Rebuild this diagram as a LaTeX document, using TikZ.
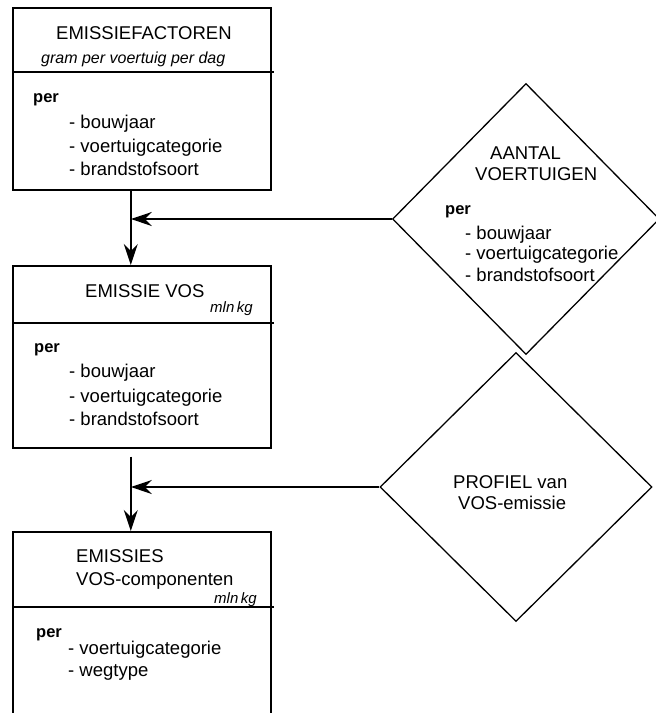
\documentclass[tikz,border=0pt]{standalone}
\usepackage{fontspec}
\setmainfont{Liberation Sans}
\usetikzlibrary{shapes.geometric,arrows.meta}

\tikzset{
  blok/.style={draw, line width=1.6pt, minimum width=258pt, minimum height=182pt, inner sep=0pt, anchor=north west},
  ruit/.style={draw, diamond, line width=1.3pt, inner sep=0pt},
  lijn/.style={line width=1.6pt},
  txt/.style={font=\fontsize{18.5}{22}\selectfont, inner sep=0pt, anchor=base west},
  eenh/.style={font=\fontsize{15}{18}\selectfont\itshape, inner sep=0pt, anchor=base west},
  kop/.style={font=\fontsize{16.5}{20}\selectfont\bfseries, inner sep=0pt, anchor=base west},
  pijl/.style={line width=1.6pt, -{Stealth[length=21pt,width=14pt,inset=7pt]}}
}

\begin{document}
\begin{tikzpicture}[x=1pt,y=-1pt]
\useasboundingbox (0,0) rectangle (656,713);
\clip (0,0) rectangle (656,713);

% blokken
\node[blok] (emfac) at (12,7) {};
\node[blok] (vos) at (12,265) {};
\node[blok, minimum height=200pt] (emvos) at (12,531) {};

% ruiten
\node[ruit, minimum width=267pt, minimum height=271pt] (aantal) at (526,219) {};
\node[ruit, minimum width=272pt, minimum height=269pt] (profiel) at (516,487) {};

% scheidingslijnen
\draw[lijn] (12,72) -- (274,72);
\draw[lijn] (12,323) -- (274,323);
\draw[lijn] (12,607) -- (274,607);

% EMISSIEFACTOREN
\node[txt] at (56,39) {EMISSIEFACTOREN};
\node[eenh, font=\fontsize{16}{19}\selectfont\itshape] at (41,63) {gram per voertuig per dag};
\node[kop] at (33,102) {per};
\node[txt] at (69,128) {- bouwjaar};
\node[txt] at (69,152) {- voertuigcategorie};
\node[txt] at (69,175) {- brandstofsoort};

% EMISSIE VOS
\node[txt] at (85,297) {EMISSIE VOS};
\node[eenh] at (210,312) {mln\hspace{2.5pt}kg};
\node[kop] at (34,352) {per};
\node[txt] at (69,377) {- bouwjaar};
\node[txt] at (69,402) {- voertuigcategorie};
\node[txt] at (69,425) {- brandstofsoort};

% EMISSIES VOS-componenten
\node[txt] at (76,562) {EMISSIES};
\node[txt] at (76,585) {VOS-componenten};
\node[eenh] at (214,603) {mln\hspace{2.5pt}kg};
\node[kop] at (36,637) {per};
\node[txt] at (68,654) {- voertuigcategorie};
\node[txt] at (68,676) {- wegtype};

% AANTAL VOERTUIGEN
\node[txt] at (490,159) {AANTAL};
\node[txt] at (475,180) {VOERTUIGEN};
\node[kop] at (445,214) {per};
\node[txt] at (465,239) {- bouwjaar};
\node[txt] at (465,259) {- voertuigcategorie};
\node[txt] at (465,281) {- brandstofsoort};

% PROFIEL
\node[txt] at (453,488) {PROFIEL van};
\node[txt] at (458,509) {VOS-emissie};

% pijlen
\coordinate (k1) at ([xshift=-11pt]emfac.south);
\coordinate (k2) at ([xshift=-11pt,yshift=-8pt]vos.south);
\draw[pijl] (k1) -- (k1 |- vos.north);
\draw[pijl] (aantal.west) -- (aantal.west -| k1);
\draw[pijl] (k2) -- (k2 |- emvos.north);
\draw[pijl] (profiel.west) -- (profiel.west -| k2);
\end{tikzpicture}
\end{document}
